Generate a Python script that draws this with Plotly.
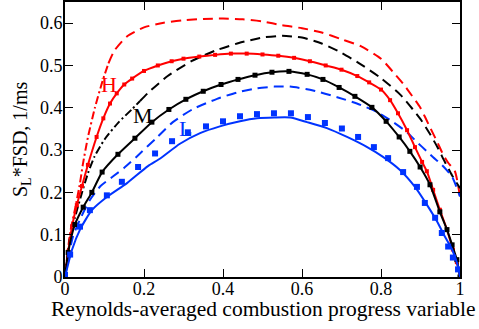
import plotly.graph_objects as go

# ---- data ----
# H (red) dashed model curve
h_dash_x = [0, 0.013, 0.025, 0.038, 0.045, 0.058, 0.076, 0.094, 0.11, 0.125, 0.156, 0.2, 0.25, 0.3, 0.35, 0.4,
            0.45, 0.5, 0.55, 0.6, 0.65, 0.7, 0.75, 0.8, 0.831, 0.856, 0.878, 0.899, 0.924, 0.944, 0.957,
            0.97, 0.987, 1.0]
h_dash_y = [0, 0.105, 0.159, 0.222, 0.265, 0.33, 0.401, 0.46, 0.505, 0.535, 0.568, 0.59, 0.601, 0.607, 0.61,
            0.611, 0.609, 0.604, 0.595, 0.588, 0.578, 0.562, 0.545, 0.516, 0.484, 0.457, 0.429, 0.401,
            0.354, 0.316, 0.29, 0.27, 0.25, 0.19]
h_dashdot_end = 8  # index where the dash-dot part ends

# H (red) solid with symbols
h_x = [0, 0.008, 0.018, 0.03, 0.043, 0.058, 0.08, 0.097, 0.114, 0.131, 0.15, 0.17, 0.2, 0.235, 0.27, 0.3,
       0.34, 0.38, 0.42, 0.46, 0.5, 0.54, 0.58, 0.62, 0.66, 0.7, 0.74, 0.77, 0.8, 0.823, 0.843, 0.866,
       0.886, 0.904, 0.916, 0.932, 0.949, 0.967, 0.982, 0.992, 1.0]
h_y = [0, 0.06, 0.12, 0.17, 0.215, 0.265, 0.331, 0.375, 0.41, 0.434, 0.455, 0.469, 0.487, 0.5, 0.51, 0.516,
       0.521, 0.525, 0.528, 0.528, 0.526, 0.523, 0.518, 0.51, 0.5, 0.49, 0.475, 0.46, 0.443, 0.418, 0.387,
       0.347, 0.307, 0.272, 0.25, 0.206, 0.159, 0.112, 0.065, 0.035, 0.0]

# M (black) dashed model curve
m_dash_x = [0, 0.013, 0.025, 0.04, 0.058, 0.075, 0.1, 0.135, 0.17, 0.19, 0.21, 0.26, 0.32, 0.38, 0.44, 0.5,
            0.55, 0.6, 0.65, 0.7, 0.75, 0.8, 0.85, 0.9, 0.924, 0.944, 0.96, 0.98, 1.0]
m_dash_y = [0, 0.095, 0.14, 0.19, 0.245, 0.285, 0.325, 0.365, 0.397, 0.416, 0.435, 0.475, 0.51, 0.535, 0.553,
            0.566, 0.57, 0.566, 0.552, 0.53, 0.502, 0.47, 0.43, 0.373, 0.338, 0.305, 0.275, 0.24, 0.21]
m_dashdot_end = 9

# M (black) solid with symbols
m_x = [0, 0.008, 0.025, 0.046, 0.068, 0.094, 0.134, 0.177, 0.22, 0.263, 0.306, 0.35, 0.395, 0.438, 0.481,
       0.524, 0.567, 0.613, 0.653, 0.694, 0.734, 0.777, 0.813, 0.846, 0.873, 0.899, 0.924, 0.949, 0.967,
       0.98, 0.992, 1.0]
m_y = [0, 0.058, 0.124, 0.165, 0.2, 0.248, 0.29, 0.328, 0.366, 0.396, 0.42, 0.439, 0.455, 0.467, 0.477,
       0.484, 0.486, 0.479, 0.467, 0.448, 0.427, 0.401, 0.368, 0.331, 0.297, 0.26, 0.218, 0.154, 0.112,
       0.076, 0.041, 0.0]

# L (blue) dashed model curve
l_dash_x = [0, 0.02, 0.04, 0.063, 0.09, 0.122, 0.15, 0.182, 0.233, 0.273, 0.324, 0.385, 0.435, 0.486, 0.53,
            0.57, 0.628, 0.689, 0.739, 0.79, 0.831, 0.866, 0.891, 0.916, 0.932, 0.954, 0.98, 1.0]
l_dash_y = [0, 0.095, 0.14, 0.182, 0.215, 0.238, 0.258, 0.285, 0.33, 0.366, 0.397, 0.421, 0.436, 0.446, 0.45,
            0.45, 0.441, 0.425, 0.41, 0.39, 0.366, 0.342, 0.319, 0.297, 0.283, 0.265, 0.237, 0.19]

# L (blue) solid model curve
l_x = [0, 0.018, 0.038, 0.068, 0.106, 0.157, 0.21, 0.241, 0.291, 0.342, 0.392, 0.443, 0.486, 0.53, 0.57,
       0.613, 0.663, 0.714, 0.765, 0.805, 0.848, 0.886, 0.916, 0.942, 0.962, 0.98, 0.995, 1.0]
l_y = [0, 0.065, 0.112, 0.158, 0.189, 0.222, 0.262, 0.28, 0.315, 0.34, 0.356, 0.368, 0.375, 0.377, 0.377,
       0.366, 0.352, 0.331, 0.307, 0.284, 0.253, 0.213, 0.171, 0.131, 0.095, 0.065, 0.025, 0.0]

# L (blue) symbols
l_sym_x = [0.0, 0.013, 0.038, 0.063, 0.106, 0.144, 0.185, 0.228, 0.271, 0.311, 0.357, 0.4, 0.443, 0.486,
           0.529, 0.572, 0.615, 0.658, 0.701, 0.742, 0.782, 0.818, 0.856, 0.891, 0.911, 0.937, 0.954, 0.97,
           0.982, 0.995]
l_sym_y = [0.005, 0.053, 0.119, 0.158, 0.193, 0.225, 0.26, 0.292, 0.321, 0.342, 0.356, 0.368, 0.38, 0.385,
           0.387, 0.387, 0.378, 0.364, 0.351, 0.331, 0.307, 0.281, 0.248, 0.213, 0.175, 0.14, 0.104, 0.072,
           0.046, 0.018]

x_ticks = [0, 0.2, 0.4, 0.6, 0.8, 1]
x_tick_text = ["0", "0.2", "0.4", "0.6", "0.8", "1"]
y_ticks = [0, 0.1, 0.2, 0.3, 0.4, 0.5, 0.6]
y_tick_text = ["0", "0.1", "0.2", "0.3", "0.4", "0.5", "0.6"]

labels = ["H", "M", "L"]
label_x = [0.111, 0.197, 0.304]
label_y = [0.455, 0.382, 0.352]

x_title = "Reynolds-averaged combustion progress variable"
y_title = "S<sub>L</sub>*FSD, 1/ms"

RED = "#ff0000"
BLACK = "#000000"
BLUE = "#0033ff"
FONT = "Liberation Serif, Times New Roman, serif"
DASH = "10px,6px"
DASHDOT = "8px,3px,2px,3px"

fig = go.Figure()

def line(x, y, color, dash, mode="lines", msize=4):
    fig.add_trace(go.Scatter(
        x=x, y=y, mode=mode,
        line=dict(color=color, width=2, dash=dash, shape="spline", smoothing=0.6),
        marker=dict(symbol="square", size=msize, color=color),
        showlegend=False, hoverinfo="skip"))

# dashed curves (dash-dot near the origin for H and M)
line(h_dash_x[:h_dashdot_end + 1], h_dash_y[:h_dashdot_end + 1], RED, DASHDOT)
line(h_dash_x[h_dashdot_end:], h_dash_y[h_dashdot_end:], RED, DASH)
line(m_dash_x[:m_dashdot_end + 1], m_dash_y[:m_dashdot_end + 1], BLACK, DASHDOT)
line(m_dash_x[m_dashdot_end:], m_dash_y[m_dashdot_end:], BLACK, DASH)
line(l_dash_x, l_dash_y, BLUE, DASH)

# solid curves
line(h_x, h_y, RED, "solid", mode="lines+markers", msize=4)
line(m_x, m_y, BLACK, "solid", mode="lines+markers", msize=5)
line(l_x, l_y, BLUE, "solid")
fig.add_trace(go.Scatter(x=l_sym_x, y=l_sym_y, mode="markers",
                         marker=dict(symbol="square", size=6, color=BLUE),
                         showlegend=False, hoverinfo="skip"))

for t, xx, yy, c in zip(labels, label_x, label_y, [RED, BLACK, BLUE]):
    fig.add_annotation(x=xx, y=yy, text=t, showarrow=False,
                       font=dict(family=FONT, size=22, color=c))

# axis titles placed in paper coordinates
fig.add_annotation(x=0.503, y=-0.118, xref="paper", yref="paper", text=x_title,
                   showarrow=False, xanchor="center", yanchor="middle",
                   font=dict(family=FONT, size=21.5, color="black"))
fig.add_annotation(x=-0.11, y=0.5, xref="paper", yref="paper", text=y_title,
                   showarrow=False, xanchor="center", yanchor="middle", textangle=-90,
                   font=dict(family=FONT, size=20, color="black"))

axis_common = dict(showline=True, linecolor="black", linewidth=2, mirror="allticks",
                   ticks="inside", ticklen=8, tickwidth=1, tickcolor="black",
                   showgrid=False, zeroline=False, automargin=False,
                   tickfont=dict(family=FONT, size=18, color="black"))

fig.update_xaxes(range=[0, 1], tickvals=x_ticks, ticktext=x_tick_text,
                 ticklabelstandoff=-6, **axis_common)
fig.update_yaxes(range=[0, 0.65], tickvals=y_ticks, ticktext=y_tick_text,
                 ticklabelstandoff=-3, **axis_common)

fig.update_layout(width=479, height=329, margin=dict(l=65, r=19, t=2, b=52),
                  plot_bgcolor="white", paper_bgcolor="white")

fig.write_html("out.html", config={"displayModeBar": False},
               post_script="document.body.style.margin='0';")
